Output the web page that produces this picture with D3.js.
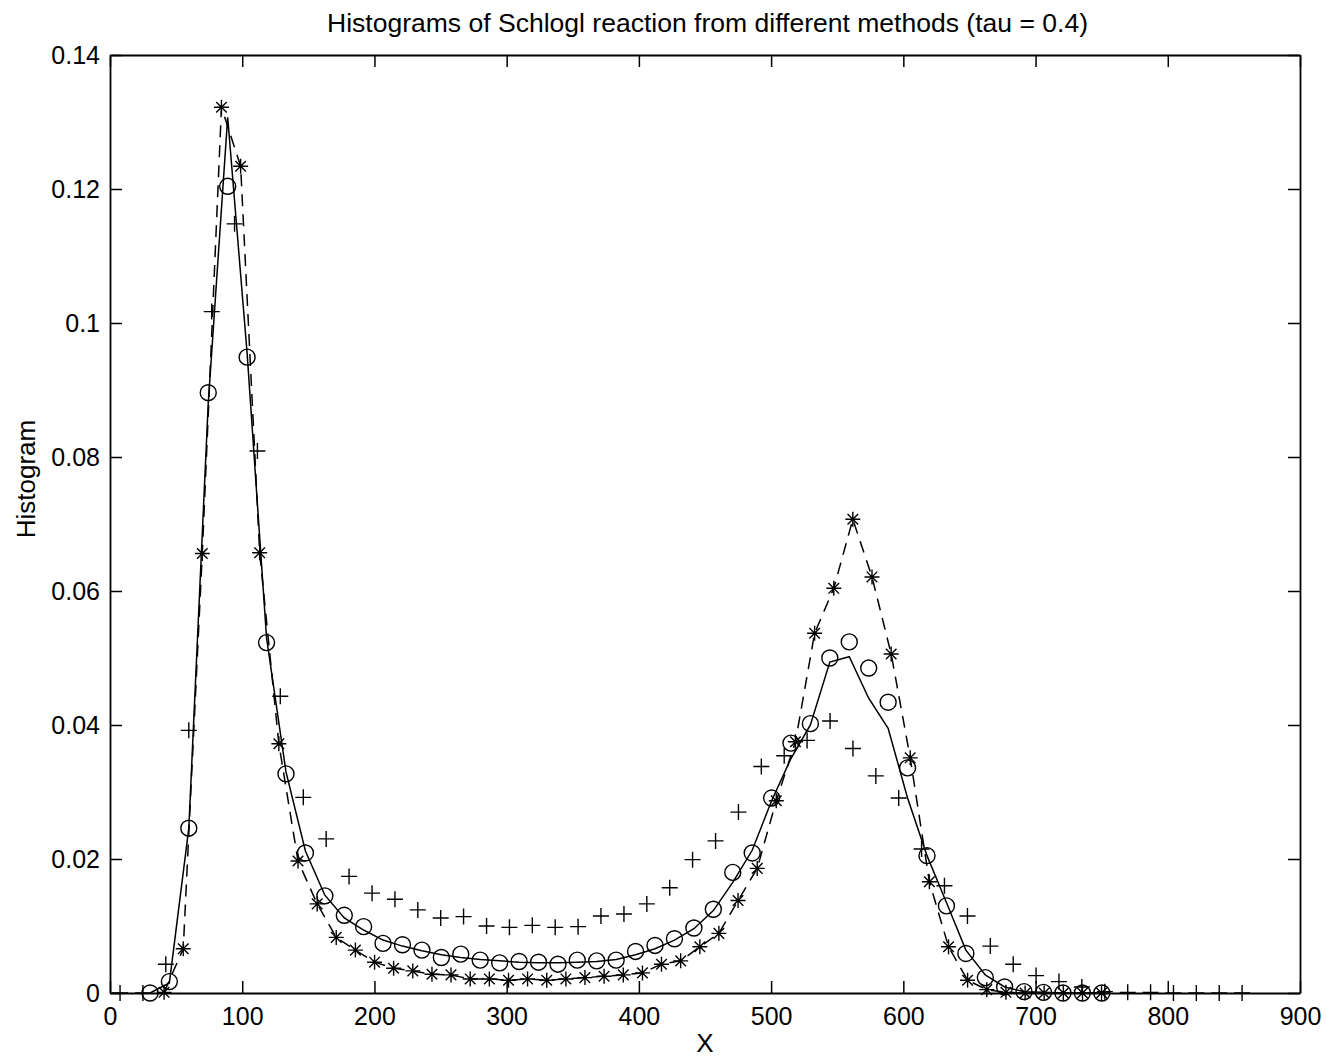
<!DOCTYPE html>
<html>
<head>
<meta charset="utf-8">
<script src="https://cdn.jsdelivr.net/npm/d3@7"></script>
<style>
  html, body { margin: 0; padding: 0; background: #fff; }
  svg { display: block; }
  text { font-family: "Liberation Sans", Arial, Helvetica, sans-serif; fill: #000; }
</style>
</head>
<body>
<div id="chart"></div>
<script>
// ---------------- data ----------------
const titleText = "Histograms of Schlogl reaction from different methods (tau = 0.4)";
const xLabelText = "X";
const yLabelText = "Histogram";
const xTicks = [0, 100, 200, 300, 400, 500, 600, 700, 800, 900];
const yTicks = [0, 0.02, 0.04, 0.06, 0.08, 0.1, 0.12, 0.14];

// bin centres shared by the solid reference line and the circle markers
const xExact = [30.3, 44.9, 59.6, 74.3, 89.0, 103.7, 118.4, 133.1, 147.8, 162.5,
  177.2, 191.8, 206.5, 221.2, 235.9, 250.6, 265.3, 280.0, 294.7, 309.4,
  324.1, 338.8, 353.4, 368.1, 382.8, 397.5, 412.2, 426.9, 441.6, 456.3,
  471.0, 485.7, 500.4, 515.0, 529.7, 544.4, 559.1, 573.8, 588.5, 603.2,
  617.9, 632.6, 647.3, 662.0, 676.6, 691.3, 706.0, 720.7, 735.4, 750.1];
// solid line
const ySolid = [0.0000, 0.0015, 0.0246, 0.0880, 0.1307, 0.0955, 0.0530, 0.0330, 0.0212, 0.0146,
  0.0112, 0.0094, 0.0079, 0.0070, 0.0063, 0.0057, 0.0053, 0.0050, 0.0048, 0.0046,
  0.0045, 0.0045, 0.0046, 0.0047, 0.0050, 0.0057, 0.0066, 0.0079, 0.0096, 0.0123,
  0.0165, 0.0213, 0.0287, 0.0350, 0.0400, 0.0494, 0.0502, 0.0440, 0.0395, 0.0291,
  0.0205, 0.0135, 0.0064, 0.0027, 0.0009, 0.0002, 0.0001, 0.0000, 0.0000, 0.0000];
// circle markers
const yCircle = [0.0000, 0.0017, 0.0246, 0.0896, 0.1204, 0.0949, 0.0523, 0.0327, 0.0209, 0.0145,
  0.0116, 0.0099, 0.0074, 0.0072, 0.0064, 0.0053, 0.0058, 0.0049, 0.0045, 0.0047,
  0.0046, 0.0043, 0.0049, 0.0048, 0.0049, 0.0062, 0.0071, 0.0081, 0.0097, 0.0125,
  0.0180, 0.0209, 0.0291, 0.0373, 0.0402, 0.0500, 0.0524, 0.0485, 0.0434, 0.0336,
  0.0205, 0.0130, 0.0059, 0.0023, 0.0009, 0.0002, 0.0001, 0.0000, 0.0000, 0.0000];

// star markers joined by a dashed line
const xStar = [40.9, 55.4, 69.8, 84.3, 98.8, 113.2, 127.7, 142.2, 156.7, 171.1,
  185.6, 200.1, 214.5, 229.0, 243.5, 257.9, 272.4, 286.9, 301.4, 315.8,
  330.3, 344.8, 359.2, 373.7, 388.2, 402.7, 417.1, 431.6, 446.1, 460.5,
  475.0, 489.5, 503.9, 518.4, 532.9, 547.4, 561.8, 576.3, 590.8, 605.2,
  619.7, 634.2, 648.6, 663.1, 677.6, 692.1, 706.5, 721.0, 735.5, 749.9];
const yStar = [0.0001, 0.0066, 0.0656, 0.1322, 0.1234, 0.0657, 0.0372, 0.0197, 0.0133, 0.0083,
  0.0064, 0.0046, 0.0037, 0.0033, 0.0028, 0.0027, 0.0021, 0.0021, 0.0019, 0.0021,
  0.0019, 0.0021, 0.0023, 0.0025, 0.0027, 0.0030, 0.0043, 0.0048, 0.0069, 0.0089,
  0.0138, 0.0186, 0.0287, 0.0375, 0.0537, 0.0604, 0.0707, 0.0621, 0.0506, 0.0351,
  0.0166, 0.0069, 0.0019, 0.0005, 0.0001, 0.0000, 0.0000, 0.0000, 0.0000, 0.0000];

// plus markers
const xPlus = [7.6, 24.9, 42.2, 59.6, 76.9, 94.2, 111.5, 128.8, 146.2, 163.5,
  180.8, 198.2, 215.5, 232.8, 250.1, 267.4, 284.8, 302.1, 319.4, 336.7,
  354.0, 371.3, 388.7, 406.0, 423.3, 440.6, 458.0, 475.3, 492.6, 509.9,
  527.2, 544.6, 561.9, 579.2, 596.5, 613.8, 631.1, 648.5, 665.8, 683.1,
  700.4, 717.7, 735.0, 752.4, 769.7, 787.0, 804.3, 821.6, 838.9, 856.2];
const yPlus = [0.0000, 0.0000, 0.0043, 0.0392, 0.1017, 0.1148, 0.0809, 0.0443, 0.0292, 0.0230,
  0.0174, 0.0149, 0.0140, 0.0124, 0.0112, 0.0114, 0.0100, 0.0098, 0.0101, 0.0098,
  0.0099, 0.0115, 0.0118, 0.0133, 0.0157, 0.0199, 0.0227, 0.0270, 0.0338, 0.0354,
  0.0377, 0.0406, 0.0365, 0.0324, 0.0291, 0.0215, 0.0160, 0.0115, 0.0070, 0.0043,
  0.0026, 0.0017, 0.0009, 0.0002, 0.0001, 0.0001, 0.0000, 0.0000, 0.0000, 0.0000];

// ---------------- drawing ----------------
const W = 1326, H = 1059;
const mLeft = 110, mRight = 1300, mTop = 55, mBottom = 993;

const svg = d3.select("#chart").append("svg").attr("width", W).attr("height", H);
svg.append("rect").attr("width", W).attr("height", H).attr("fill", "#fff");

const x = d3.scaleLinear().domain([0, 900]).range([mLeft, mRight]);
const y = d3.scaleLinear().domain([0, 0.14]).range([mBottom, mTop]);

const fmt = d => String(+d.toFixed(2));
const tickLen = 12;

function styleAxis(g) {
  g.attr("font-family", null).attr("font-size", null);
  g.selectAll("path.domain").attr("stroke", "#000").attr("stroke-width", 1.8);
  g.selectAll(".tick line").attr("stroke", "#000").attr("stroke-width", 1.5);
  g.selectAll(".tick text").style("font-size", "25px").attr("fill", "#000");
}

svg.append("g").attr("transform", `translate(0,${mBottom})`)
  .call(d3.axisBottom(x).tickValues(xTicks).tickFormat(fmt).tickSizeInner(-tickLen).tickSizeOuter(0).tickPadding(14))
  .call(styleAxis);
svg.append("g").attr("transform", `translate(0,${mTop})`)
  .call(d3.axisTop(x).tickValues(xTicks).tickFormat("").tickSizeInner(-tickLen).tickSizeOuter(0))
  .call(styleAxis);
svg.append("g").attr("transform", `translate(${mLeft},0)`)
  .call(d3.axisLeft(y).tickValues(yTicks).tickFormat(fmt).tickSizeInner(-tickLen).tickSizeOuter(0).tickPadding(10))
  .call(styleAxis);
svg.append("g").attr("transform", `translate(${mRight},0)`)
  .call(d3.axisRight(y).tickValues(yTicks).tickFormat("").tickSizeInner(-tickLen).tickSizeOuter(0))
  .call(styleAxis);

// solid line
const solidData = xExact.map((v, i) => [v, ySolid[i]]);
const line = d3.line().x(d => x(d[0])).y(d => y(d[1]));
svg.append("path").datum(solidData).attr("d", line)
  .attr("fill", "none").attr("stroke", "#000").attr("stroke-width", 1.5);

// circles
const circleData = xExact.map((v, i) => [v, yCircle[i]]);
svg.append("g").selectAll("circle").data(circleData).join("circle")
  .attr("cx", d => x(d[0])).attr("cy", d => y(d[1])).attr("r", 8)
  .attr("fill", "none").attr("stroke", "#000").attr("stroke-width", 1.4);

// dashed line with stars
const starData = xStar.map((v, i) => [v, yStar[i]]);
svg.append("path").datum(starData).attr("d", line)
  .attr("fill", "none").attr("stroke", "#000").attr("stroke-width", 1.5)
  .attr("stroke-dasharray", "12,8");
const s = 7.5, sd = 5.3;
svg.append("g").selectAll("path").data(starData).join("path")
  .attr("transform", d => `translate(${x(d[0])},${y(d[1])})`)
  .attr("d", `M${-s},0H${s}M0,${-s}V${s}M${-sd},${-sd}L${sd},${sd}M${-sd},${sd}L${sd},${-sd}`)
  .attr("fill", "none").attr("stroke", "#000").attr("stroke-width", 1.4);

// plus markers
const plusData = xPlus.map((v, i) => [v, yPlus[i]]);
const p = 8;
svg.append("g").selectAll("path").data(plusData).join("path")
  .attr("transform", d => `translate(${x(d[0])},${y(d[1])})`)
  .attr("d", `M${-p},0H${p}M0,${-p}V${p}`)
  .attr("fill", "none").attr("stroke", "#000").attr("stroke-width", 1.4);

// title and labels
svg.append("text").attr("x", 707.5).attr("y", 32)
  .attr("text-anchor", "middle").style("font-size", "26px")
  .attr("textLength", 761).attr("lengthAdjust", "spacingAndGlyphs").text(titleText);
svg.append("text").attr("x", (mLeft + mRight) / 2).attr("y", 1052)
  .attr("text-anchor", "middle").style("font-size", "26px").text(xLabelText);
svg.append("text").attr("transform", `translate(35,${(mTop + mBottom) / 2 - 45}) rotate(-90)`)
  .attr("text-anchor", "middle").style("font-size", "26px").text(yLabelText);
</script>
</body>
</html>
